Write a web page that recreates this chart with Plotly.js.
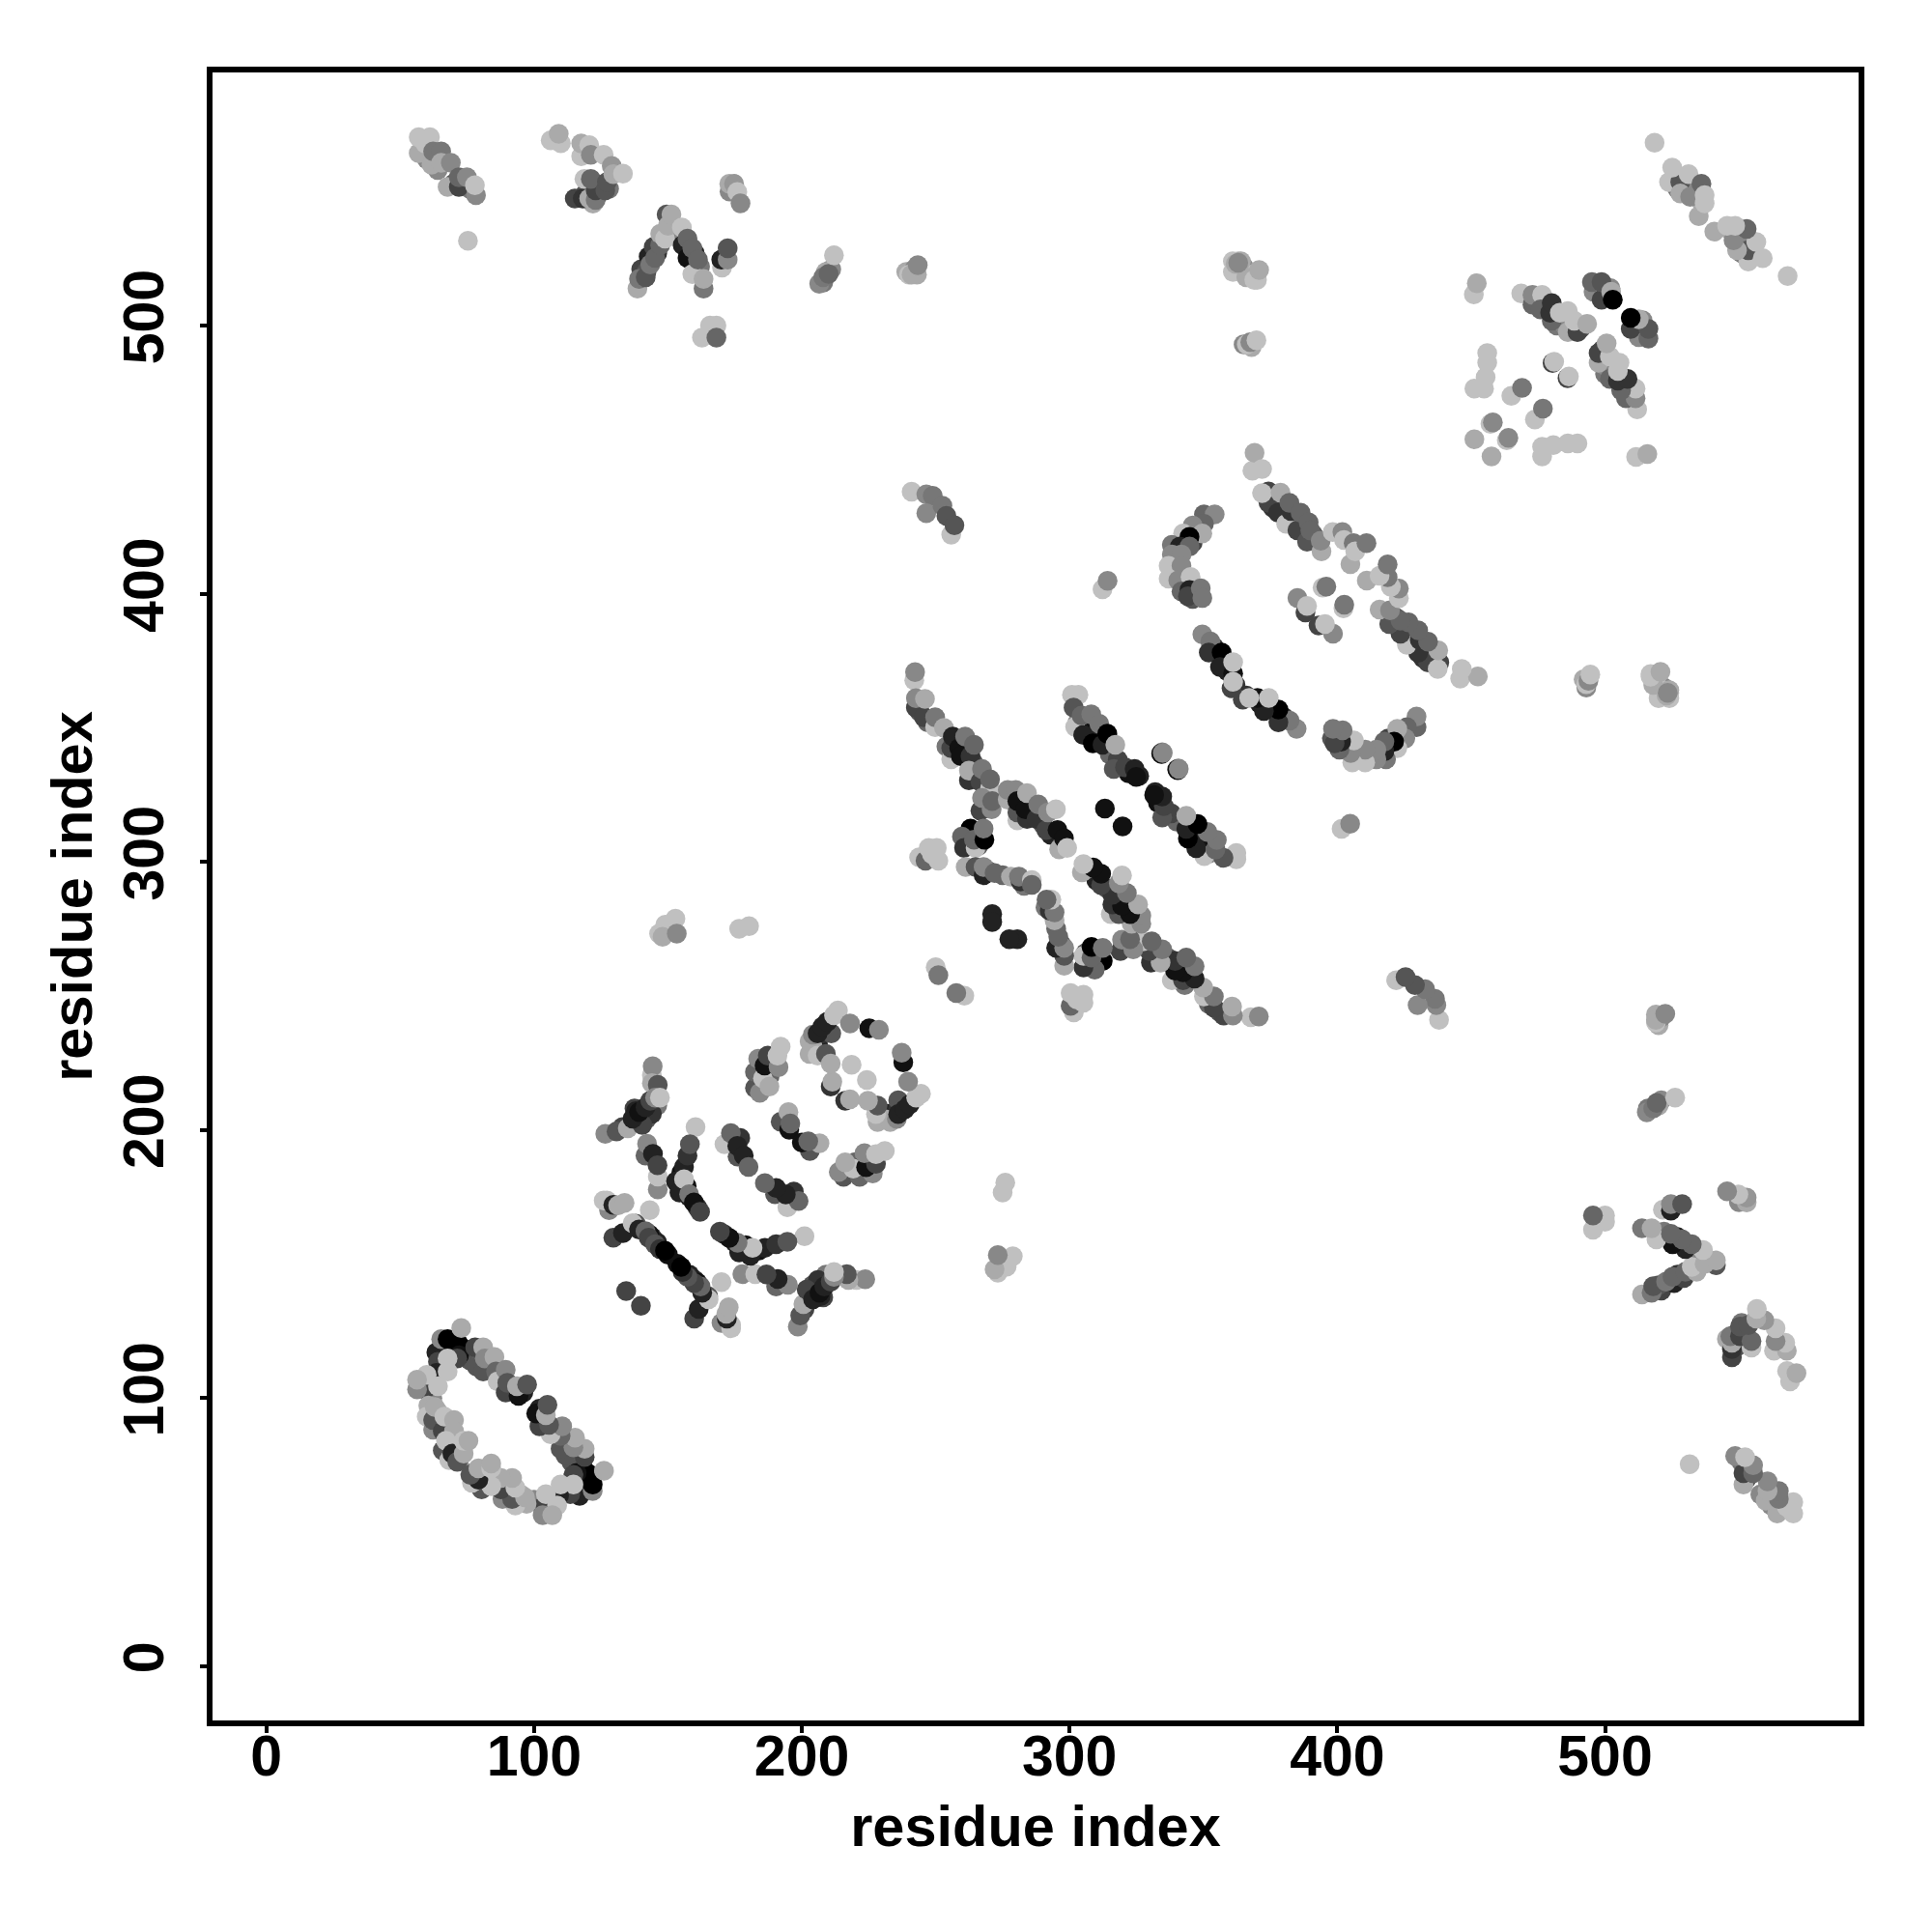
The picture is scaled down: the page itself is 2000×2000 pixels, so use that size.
<!DOCTYPE html>
<html>
<head>
<meta charset="utf-8">
<script src="https://cdn.plot.ly/plotly-3.0.1.min.js"></script>
<style>html,body{margin:0;padding:0;background:#fff}</style>
</head>
<body>
<div id="chart" style="width:2000px;height:2000px"></div>
<script>
// Each row: residue i, residue j, grey level of the contact (the map is symmetric: i,j and j,i)
const underlyingContacts = [
[66,118,34],[69,117,51],[75,118,68],[76,114,85],[80,113,102],[84,112,85],[88,107,68],[92,103,34],[96,102,34],[61,105,102],[62,100,136],[64,95,170],[64,90,119],[67,89,102],[68,83,136],[71,82,85],[72,77,119],
[133,201,68],[137.5,208,68],[142,204,85],[146,209,119],[138,207,34],[144,206,51],[155,184,17],[157,179,17],[158,175,34],[161,171,51],[176,190,85],[177,197,51],[188,220,102],[185,218,119],[186,222,51],[206,232,34],[208,236,51],[211,236,85],[204,231,170],[128,170,136],[144,160,51],[146,158,34],[143,161,17],[138,165,85],[150,153.5,17],
[244,356,85],[247,352,102],[254,343,119],[258,345,51],[261,343,17],[264,337,85],[270,324,119],[282,321,34],[286,318,68],[290,314,85],[293,310,34],[297,306,119],[262,310,51],[266,311,17],[266,306,85],[303,352,136],[305,350,51],[307,349,17],[310,347,34],[313,344,51],[315,340,102],[318,338,68],[322,333,17],[326,332,34],[269,297,68],[275,295,102],[283,291,119],
[376,432,51],[380,431,68],[384,428,51],[387,426,68],[391,422,85],[340,412,136],[343,404,119],[347,400,102],[346,398,85],[346,419,68],[354,380,51],[358,375,17],[359,371,34],[362,366,51],
[208,516,119],[211,521,136],[209,520,170],[239,520,170],[242,521,136],[243,519,170],[361,524,192],[365,522,136],[367,519,192],[370,517,192],[365,493,136],[368,492,170],[361,520,192],[363,524,192],[366,518,170],[364,524,170],
[60,562,136],[64,558,136],[70,553,85],[73,553,68],[76,551,119],[119,549,85],[124,549,51],[122,545.5,170],[125,552,68],[128,551,119],[140,521,68],[142,520,85],[146,527,51],[160,527,34],[162,522,119],[155,533,136],[110,568,192],[173,550,136],
[474,508,85],[478,506,51],[482,500,119],[485,500,136],[491,499,85],[497,514,102],[500,512,34],[502,514,136],[527,551,119],[530,551,102],[534,550,136],[536,546,170]
];
const ringContacts = [
[63.5,117,34],[64.1,113.5,68],[65.3,121.9,136],[67.7,121.9,0],[71.9,120,0],[72,115.9,17],[71.3,114.7,68],[67.7,114.7,192],[63.5,109.3,34],[67.7,109.9,192],[59.3,103.2,68],[56.3,103.2,136],[59.9,108.6,192],[56.3,106.8,170],[64.1,104.4,192],[72.8,126.1,170],
[78,118.9,68],[78.6,111.7,85],[81,109.9,85],[81,118.9,170],[81.6,114.7,136],[85.2,115.3,170],[85.8,109.9,102],[86.4,106.2,192],[89.4,110.5,136],[89.4,102,68],[90,105.6,85],[94.2,100.8,17],[93.6,104.4,170],[97.4,105,85],
[60.5,97.2,170],[59.9,93,192],[62.3,88.2,136],[62.3,91.8,85],[62.9,96.6,170],[65.9,87.6,68],[66.5,93,192],[70.1,91.8,170],[70.1,87.6,170],[65.9,80.4,85],[67.1,84,192],[68.3,76.8,192],[69.5,79.2,34],[71.3,76.2,85],[73.7,79.2,170],[73.7,84,192],[75.5,84,170]
];
const helixContactsA = [
[126.6,198.5,136],[130.8,199.4,85],[135,200.6,170],[140.4,201.8,68],[136.8,204.2,34],[139.2,206.6,17],[141.6,208.4,34],[143.4,210.8,68],[144,220.4,192],[144.3,223.7,136],[144,217.4,170],[146.2,216.8,85],[145.2,212,136],[147,212,192],
[141.6,190.4,102],[142.2,194.8,136],[144.4,191,34],[146.2,177.8,136],[146.2,182.6,192],[146.1,186.8,68],
[160.3,201,192],[156,186.2,34],[157.3,190.4,51],[158.2,194.6,85],[153,180.8,34],[154.3,176.6,34],[156,181.6,192],[157.9,176,119],[159.7,172.9,17],[162,169.4,68],
[171.1,194.6,192],[173.5,198.8,102],[175.9,194,34],[178.3,190.4,34],[180.1,186.2,102],
[192.1,203,85],[195,206.6,170],[195.3,200,17],[195.7,202.4,102],
[182.5,215.6,85],[184.3,213.8,136],[182.5,221.6,102],[183.7,226.5,136],[185.5,219.2,192],[187.9,216.2,170],[186.1,224,17],[187.3,227.7,68],[191.3,223.4,136],[190.9,227.7,192],[192.1,231,192],
[202.9,228.3,170],[202.9,233,170],[204.1,235.5,136],[205.9,236,34],[207.7,238.5,34],[209.5,240.3,34],[212,242.7,192],[213.5,244.5,192],[205.9,227.7,192],[209,228.3,85],[210.8,216.2,51],[211.4,218,170],[210.8,224.7,170],[218,239.7,136],[218.6,224.3,192],[225.2,237.9,17],[228.8,237.3,136],
[134.4,139.9,68],[126,173.6,192],[127.2,173.6,192],[129.6,172,34],[131.4,171.8,170],[133.8,172.7,170],[143.2,170,192],[129.6,159.8,68],[133.2,161.5,34],[136.8,165.2,192],[139.2,162.8,34],[141.6,162.2,102],[142.8,159.8,68],[145.2,157.3,85],[147,155.5,51],[148.9,154.9,0]
];
const helixContactsB = [
[242,367.7,192],[242.3,370.7,136],[242.6,357.5,68],[242.6,361,136],[245.6,353.9,68],[246,360.7,170],[249.8,350.2,192],[249.8,353.9,119],[253.1,349.9,170],
[255.8,338.2,192],[255.8,342.4,68],[256.4,346.7,34],[258.8,342.4,17],[259.4,339.4,17],[263,339.4,51],[261,346.7,119],[264.3,343.6,102],
[262.4,330.4,51],[262.4,334,170],[266.7,329.8,68],[267.3,334.6,119],[270.3,327.4,192],[270.3,330.7,102],[266.7,319,68],[267.3,323.8,136],[270.9,319.6,136],[271.1,322.6,102],
[276.9,323.2,170],[276.9,326.8,136],[279.9,326.8,136],[280.5,315.4,192],[280.5,318.4,85],[280.5,322.6,17],[284.1,316,51],[283.5,319.6,17],[284.1,325.6,170],[287.7,316,51],[288.3,321.4,119],[291.3,311.8,68],[291.9,318.4,136],[294.9,319.6,192],[296.1,304.6,170],[295.5,311.8,17],[297.9,308.8,17],[299.1,305.2,192],
[263,312.4,0],[259.8,309.4,102],[260.6,305.2,51],[264.9,305.2,192],[264.3,308.2,102],[268.2,308.2,0],[267.9,312.4,119],
[243.8,301.6,192],[246.2,300.4,102],[247.4,305.2,192],[250.4,305.2,192],[251,300.4,192],[248.6,302.8,192],
[261.2,298,170],[264.9,298,85],[267.9,295,34],[267.9,298,136],[272,295.8,102],[278.1,294.4,170],[281.7,292.6,51],[281.1,294.4,119],[285.9,293.2,192],[285.9,291.4,102],
[271.1,280.5,34],[271.1,277.5,34],[313.2,319.8,17],
[300.9,362.3,192],[303.3,362.3,192],[301.5,357.5,85],[302.1,350.3,192],[305.1,347.3,34],[304.5,354.5,102],[308.7,344.2,0],[308.1,355,119],[311.1,351.5,119],[312.3,343.6,34],[314.1,347.8,0],[317.1,343.6,170],[316.5,334.6,85],[320.7,335.2,68],[324.3,334.6,34],[324.9,331.6,17],
[334.4,340.2,17],[334.6,340.8,136],[340.4,334.2,17],[340.6,334.8,136],
[250,260.7,192],[251,257.7,119]
];
const ringContactsB = [
[374.3,433.9,68],[374.3,438.1,68],[368.3,445.9,192],[369.1,452.5,170],[371.9,446.5,192],[371.9,437.5,192],[378.8,437.7,170],[377.9,430.2,51],[380.9,426,192],[382.7,430.8,51],[382.1,433.9,102],[385.1,423.6,68],[386.3,430.2,102],[389.3,426.6,102],[388.7,419.4,85],[389.9,423.6,102],[394.1,415.8,170],[393.8,419.7,136],
[398.3,423,192],[401.9,423,136],[402.5,420,192],[404.9,411,170],[406.1,418.8,119],[406.7,415.8,192],[410.9,418.8,119],
[388.1,393,68],[385.1,398.4,136],[388.7,395.4,192],[394.5,402.3,192],[395.9,402.6,119],
[350.2,429.6,102],[354.2,429.6,136],[350.2,426,102],[346,425.4,136],[349.6,422.4,170],[342.4,422.4,192],[344.8,421.2,0],[338.2,418.2,119],[341.2,417.6,34],[344.8,417.6,102],[338.2,414.6,136],[341.8,414.6,136],[337,410.4,192],[341.8,410.4,136],[337,405.6,192],[340.6,405,136],[345.2,406.2,192],[341.8,400.8,102],[344.8,401.4,34],[344.2,399,68],[349,402,119],[349.6,398.4,119],
[349.6,384.8,136],[352.6,382.2,119],[352,378,51],[356.8,378,0],[356.2,372.6,34],[361.1,370.2,17],[360.5,364.7,68],[361.1,367.1,192],[361.1,374.4,192]
];
const farContactsA = [
[56.9,564.3,170],[56.9,570.3,192],[61.1,570.3,192],[59.3,567.9,192],[61.7,560,170],[62.3,564.9,119],[65.3,564.9,119],[65.3,560.7,170],[68.9,560.7,136],[67.7,551.7,170],[71.9,551.7,68],[71.9,555.3,102],[74.9,555.3,136],[78.3,548.6,136],[77.9,552.3,192],[75.3,531.6,192],
[106.2,569.1,192],[109.2,571.5,170],[117.6,563.1,192],[117.6,567.9,170],[120.6,567.3,192],[121.2,563.7,136],[126,563.7,192],[129,559.5,150],
[115.2,547.4,68],[118.2,547.4,51],[118.8,554.7,192],[120.6,547.4,170],[123,546.8,119],[123,550.4,68],[121.2,554.7,102],[126.6,550.4,85],[127.2,553.5,85],[129.6,556.5,170],[133.2,556.7,192],
[138.6,513.8,170],[139.2,517.4,119],[141.7,518,85],[142.8,525.8,34],[143.4,522.8,119],[144.7,529.4,68],[145.2,525.2,102],[147.1,530,102],[147.1,534.2,170],[148.9,532.4,192],[149.5,541.4,85],[150,537.2,170],[151.3,541.4,170],
[155.2,536.6,192],[155.5,530,34],[157.3,525.2,17],[157.3,532.4,102],[159.1,528.8,102],[159.1,519.2,192],[161.2,524.6,102],[163.3,513.8,119],[163.3,517.4,170],
[170.2,521.6,192],[169.9,524.6,34],[172.3,524.6,136],[172.3,528.8,85],
[172.9,552.9,170],[174.7,552.9,150],[175.9,549.8,192],[177.1,545.6,136],
[162.7,495.5,192],[165.7,500,192],[168.1,500,192],[168.1,495.5,102],
[206.5,515.6,136],[208,518,119],[210,519.3,102],[212,526.2,192],
[240,519,192],[241,519,170],[243.3,522.5,136],
[362,523,170],[363,523.4,136],[369,517,192],[370.8,520.7,170],
[366.2,493,192],[367.5,493.8,136],[369.8,494.5,192]
];
const farContactsB = [
[241,438,192],[246.5,437,136],[248.9,436.5,119],[246.5,430,136],[252.5,432.8,119],[255.8,422,192],[254,429,85],[257,425.5,85],
[312.3,401.6,192],[314.2,404.8,136],
[146.7,273.2,192],[149,276.5,192],[152.8,278.8,192],[148,272,170],[153.3,273.2,136],
[176.6,275,192],[180.3,276,192]
];
const terminalContacts = [
[451,511.6,192],[452.1,515.8,170],
[468.7,512,192],[472.9,507.8,102],[472.9,511.4,136],[476.5,511.4,192],[475.9,506,102],[480.1,501.8,102],[479.5,504.8,51],[480.1,508.4,51],[486.1,497.6,170],[489.7,497.6,68],[483.1,504.8,192],[486.1,505.4,192],[488.5,501.8,192],[493.3,500.6,170],
[495.7,512.6,136],[495.1,516.2,102],[498.7,509.6,68],[498.7,516.2,85],[502.3,512.6,170],[502.9,509.6,0],
[451.2,476.5,192],[454.8,476.5,192],[455.4,480.7,192],[456,486.1,192],[456,489.7,192],
[465,473.8,192],[469,476.8,119],[480.4,486,68],[481,486.5,192],
[451.2,457.6,170],[457.2,463.3,192],[458.1,463.9,136],
[518.5,568.2,192],[523.9,553.5,192],[528.1,553.5,85],[528.1,549.3,170],[531.8,548,136],[525.1,558.9,192],[531.2,556.5,192],[536,552.9,102],[535,540.8,170],[537.2,545.6,192],[537.2,548.6,192]
];
const contactGroups = [underlyingContacts, ringContacts, helixContactsA, helixContactsB, ringContactsB, farContactsA, farContactsB, terminalContacts];
const tickValues = [0, 100, 200, 300, 400, 500];
const axisTitle = 'residue index';

const xs = [], ys = [], colors = [];
function addPoint(x, y, g) { xs.push(x); ys.push(y); colors.push('rgb(' + g + ',' + g + ',' + g + ')'); }
contactGroups.forEach(function (group) {
  group.forEach(function (c) { addPoint(c[0], c[1], c[2]); });
  group.forEach(function (c) { addPoint(c[1], c[0], c[2]); });
});

const tickFont = { family: '"Liberation Sans", Arial, sans-serif', size: 59, color: '#000', weight: 700 };
const titleFont = { family: '"Liberation Sans", Arial, sans-serif', size: 59.5, color: '#000', weight: 700 };
function axis(angle, standoff, titleStandoff, range) {
  return {
    range: range, tickmode: 'array', tickvals: tickValues, ticktext: tickValues.map(String),
    showgrid: false, zeroline: false, showline: true, mirror: true, linecolor: '#000', linewidth: 6,
    ticks: 'outside', ticklen: 7, tickwidth: 4, tickcolor: '#000', tickangle: angle,
    ticklabelstandoff: standoff, tickfont: tickFont,
    title: { text: '<b>' + axisTitle + '</b>', font: titleFont, standoff: titleStandoff }
  };
}
const layout = {
  width: 2000, height: 2000, autosize: false, showlegend: false,
  paper_bgcolor: '#fff', plot_bgcolor: '#fff',
  margin: { l: 220, r: 76, t: 75, b: 219, pad: 0 },
  xaxis: axis(0, -27, 22, [-20.1, 594.7]),
  yaxis: axis(-90, 14, 4, [-20.3, 594.4])
};
Plotly.newPlot('chart', [{
  type: 'scatter', mode: 'markers', x: xs, y: ys, hoverinfo: 'skip',
  marker: { size: 20.5, color: colors, line: { width: 0 } }
}], layout, { staticPlot: true, displayModeBar: false });
</script>
</body>
</html>
